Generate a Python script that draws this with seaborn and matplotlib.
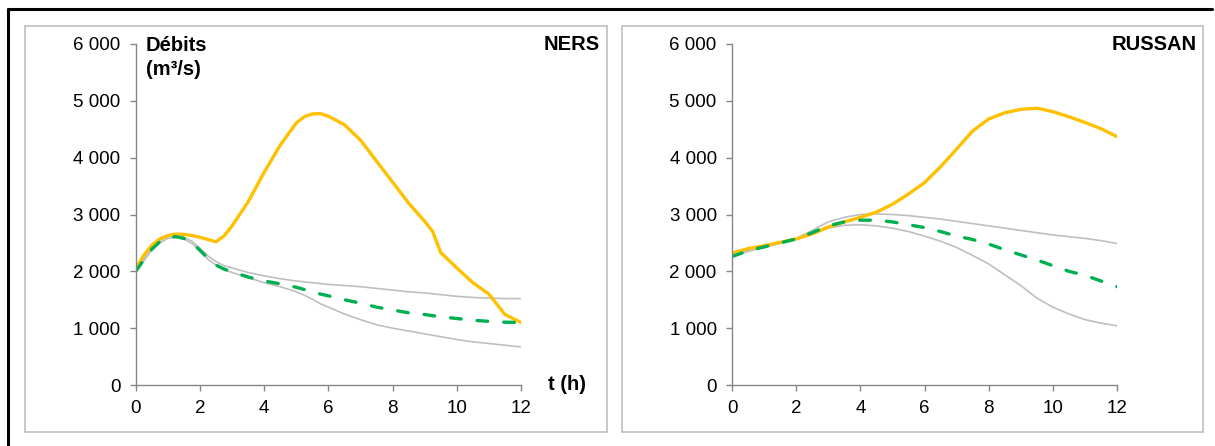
import matplotlib
matplotlib.use("Agg")
import matplotlib.pyplot as plt
from matplotlib.patches import Rectangle
from matplotlib.lines import Line2D
from matplotlib.ticker import FuncFormatter
import seaborn as sns
import pandas as pd

# temps (h) - NERS
t_ners = [0, 0.25, 0.5, 0.75, 1, 1.25, 1.5, 1.75, 2, 2.25, 2.5, 2.75, 3, 3.5, 4, 4.5,
          5, 5.25, 5.5, 5.75, 6, 6.5, 7, 7.5, 8, 8.5, 9, 9.25, 9.5, 10, 10.5, 11, 11.5, 12]

# NERS (m3/s)
ners_orange = [2050, 2280, 2460, 2570, 2630, 2655, 2650, 2630, 2600, 2560, 2520, 2620, 2800,
               3220, 3740, 4220, 4610, 4720, 4770, 4775, 4730, 4580, 4310, 3940, 3570, 3200,
               2880, 2700, 2330, 2060, 1800, 1600, 1240, 1100]
ners_vert = [2000, 2200, 2390, 2520, 2590, 2610, 2580, 2500, 2370, 2230, 2110, 2040, 1990,
             1900, 1830, 1780, 1720, 1680, 1640, 1600, 1570, 1500, 1440, 1370, 1320, 1270,
             1240, 1220, 1200, 1170, 1140, 1120, 1105, 1100]
ners_haut = [2000, 2220, 2420, 2540, 2610, 2625, 2600, 2530, 2410, 2270, 2170, 2100, 2060,
             1980, 1920, 1870, 1830, 1815, 1800, 1785, 1770, 1750, 1730, 1700, 1670, 1640,
             1620, 1605, 1590, 1560, 1540, 1530, 1520, 1520]
ners_bas = [2000, 2180, 2370, 2500, 2580, 2600, 2570, 2490, 2370, 2210, 2110, 2030, 1980,
            1890, 1800, 1730, 1640, 1580, 1510, 1430, 1370, 1250, 1150, 1060, 1000, 950,
            900, 875, 850, 800, 760, 730, 700, 670]

# temps (h) - RUSSAN
t_russan = [0, 0.5, 1, 1.5, 2, 2.5, 3, 3.5, 4, 4.5, 5, 5.5, 6, 6.5, 7, 7.5, 8,
            8.5, 9, 9.5, 10, 10.5, 11, 11.5, 12]

# RUSSAN (m3/s)
russan_orange = [2320, 2400, 2450, 2510, 2570, 2660, 2780, 2870, 2950, 3040, 3180, 3360,
                 3560, 3840, 4150, 4470, 4680, 4790, 4850, 4870, 4810, 4720, 4620, 4510, 4370]
russan_vert = [2260, 2360, 2430, 2500, 2570, 2680, 2800, 2870, 2900, 2900, 2870, 2820,
               2770, 2700, 2620, 2560, 2480, 2380, 2290, 2200, 2100, 2000, 1930, 1830, 1730]
russan_haut = [2280, 2370, 2440, 2510, 2580, 2720, 2870, 2950, 3000, 3010, 3000, 2980,
               2950, 2920, 2880, 2840, 2800, 2760, 2720, 2680, 2640, 2610, 2580, 2540, 2490]
russan_bas = [2260, 2350, 2420, 2490, 2560, 2650, 2760, 2810, 2820, 2800, 2760, 2700,
              2620, 2530, 2420, 2280, 2130, 1940, 1750, 1530, 1370, 1250, 1150, 1090, 1040]

sns.set_theme(style="white")
plt.rcParams['font.family'] = ['Liberation Sans', 'DejaVu Sans']

W, H = 1215, 446
fig = plt.figure(figsize=(W / 100, H / 100), dpi=100)

GRIS = "#BFBFBF"
ORANGE = "#FFC000"
VERT = "#00B050"
AXE = "#868686"


def fx(px):
    return px / W


def fy(py):
    return 1 - py / H


def panel(left_px, right_px, t, series, nom, nom_x):
    ax = fig.add_axes([fx(left_px), fy(385), fx(right_px - left_px), fy(44) - fy(385)])
    df = pd.DataFrame({"t": t})
    for key, vals in series.items():
        df[key] = vals
    sns.lineplot(data=df, x="t", y="haut", ax=ax, color=GRIS, lw=1.2)
    sns.lineplot(data=df, x="t", y="bas", ax=ax, color=GRIS, lw=1.2)
    sns.lineplot(data=df, x="t", y="orange", ax=ax, color=ORANGE, lw=2.4)
    line = sns.lineplot(data=df, x="t", y="vert", ax=ax, color=VERT, lw=2.4).lines[-1]
    line.set_dashes([3.2, 4.8])
    line.set_dash_capstyle("round")
    ax.set_xlim(0, 12)
    ax.set_ylim(0, 6000)
    ax.set_xticks(range(0, 13, 2))
    ax.set_yticks(range(0, 6001, 1000))
    ax.yaxis.set_major_formatter(FuncFormatter(lambda v, p: f"{int(v):,}".replace(",", " ")))
    ax.set_xlabel("")
    ax.set_ylabel("")
    for s in ["top", "right"]:
        ax.spines[s].set_visible(False)
    for s in ["left", "bottom"]:
        ax.spines[s].set_color(AXE)
        ax.spines[s].set_linewidth(1)
    ax.tick_params(axis="both", direction="out", length=4, width=1, color=AXE,
                   labelsize=13.5, labelcolor="black", left=True, bottom=True)
    ax.tick_params(axis="y", pad=7)
    ax.tick_params(axis="x", pad=7)
    ax.patch.set_alpha(0)
    fig.text(fx(nom_x), fy(44), nom, ha="right", va="center", fontsize=14.5,
             fontweight="bold", color="black")
    return ax


ax1 = panel(135.7, 521, t_ners, {"orange": ners_orange, "vert": ners_vert,
                                 "haut": ners_haut, "bas": ners_bas}, "NERS", 600)
ax2 = panel(732, 1117, t_russan, {"orange": russan_orange, "vert": russan_vert,
                                  "haut": russan_haut, "bas": russan_bas}, "RUSSAN", 1197)

fig.text(fx(146), fy(36), "Débits\n(m³/s)", ha="left", va="top", fontsize=14.5,
         fontweight="bold", color="black", linespacing=1.35)
fig.text(fx(548), fy(385), "t (h)", ha="left", va="center", fontsize=14.5,
         fontweight="bold", color="black")

# cadres des graphiques
for x0, x1 in [(25, 607), (622, 1203)]:
    fig.add_artist(Rectangle((fx(x0), fy(432)), fx(x1 - x0), fy(26) - fy(432),
                             fill=False, edgecolor=GRIS, lw=1.2, transform=fig.transFigure))

# cadre extérieur
fig.add_artist(Line2D([fx(8), fx(1212)], [fy(9), fy(9)], color="black", lw=2.2,
                      transform=fig.transFigure))
fig.add_artist(Line2D([fx(8), fx(8)], [fy(9), fy(446)], color="black", lw=2.2,
                      transform=fig.transFigure))

fig.savefig("out.png", dpi=100)
